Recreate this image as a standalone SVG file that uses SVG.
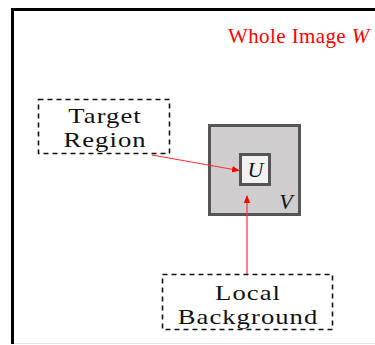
<svg xmlns="http://www.w3.org/2000/svg" width="375" height="345" viewBox="0 0 375 345">
<defs>
<marker id="ah" markerWidth="8" markerHeight="8" refX="7" refY="4" orient="auto" markerUnits="userSpaceOnUse">
<path d="M0,0.8 L8,4 L0,7.2 z" fill="#ff0000"/>
</marker>
<style>
.lbl{font-family:"Liberation Serif","Times New Roman",serif;font-size:20.5px;letter-spacing:0.8px;fill:#111;text-anchor:middle}
.it{font-family:"Liberation Serif","Times New Roman",serif;font-style:italic;font-size:22px;fill:#111;text-anchor:middle}
.dash{fill:none;stroke:#111;stroke-width:1.6;stroke-dasharray:5,4}
.con{stroke:#ff3030;stroke-width:1.2;fill:none;marker-end:url(#ah)}
</style>
</defs>
<rect x="0" y="0" width="375" height="345" fill="#fff"/>
<g id="frame">
<path d="M12.5,344 L12.5,9.5 L375,9.5" fill="none" stroke="#000" stroke-width="3"/>
<line x1="14" y1="343.5" x2="375" y2="343.5" stroke="#e6e6e6" stroke-width="1"/>
<text x="228" y="43" font-family="Liberation Serif,'Times New Roman',serif" font-size="21" letter-spacing="0.4" fill="#ff0000">Whole Image <tspan font-style="italic">W</tspan></text>
</g>
<g id="V">
<rect x="209.5" y="125.5" width="90" height="89" fill="#cfcdce" stroke="#555" stroke-width="3"/>
<text class="it" x="286" y="209">V</text>
</g>
<g id="U">
<rect x="240.5" y="154.5" width="29" height="30" fill="#f2f2f2" stroke="#555" stroke-width="3"/>
<text class="it" x="255.5" y="177">U</text>
</g>
<g id="target">
<rect class="dash" x="38.5" y="99.5" width="131" height="54"/>
<text class="lbl" transform="translate(104.5,123) scale(1.3,1)" x="0.4" y="0">Target</text>
<text class="lbl" transform="translate(104.5,147) scale(1.3,1)" x="0.4" y="0">Region</text>
</g>
<g id="local">
<rect class="dash" x="162.5" y="274.5" width="170" height="55"/>
<text class="lbl" transform="translate(247.5,300) scale(1.3,1)" x="0.4" y="0">Local</text>
<text class="lbl" transform="translate(247.5,324) scale(1.3,1)" x="0.4" y="0">Background</text>
</g>
<g id="connectors">
<line class="con" x1="152" y1="155" x2="239" y2="170.5"/>
<line class="con" x1="247" y1="274" x2="247" y2="196"/>
</g>
</svg>
